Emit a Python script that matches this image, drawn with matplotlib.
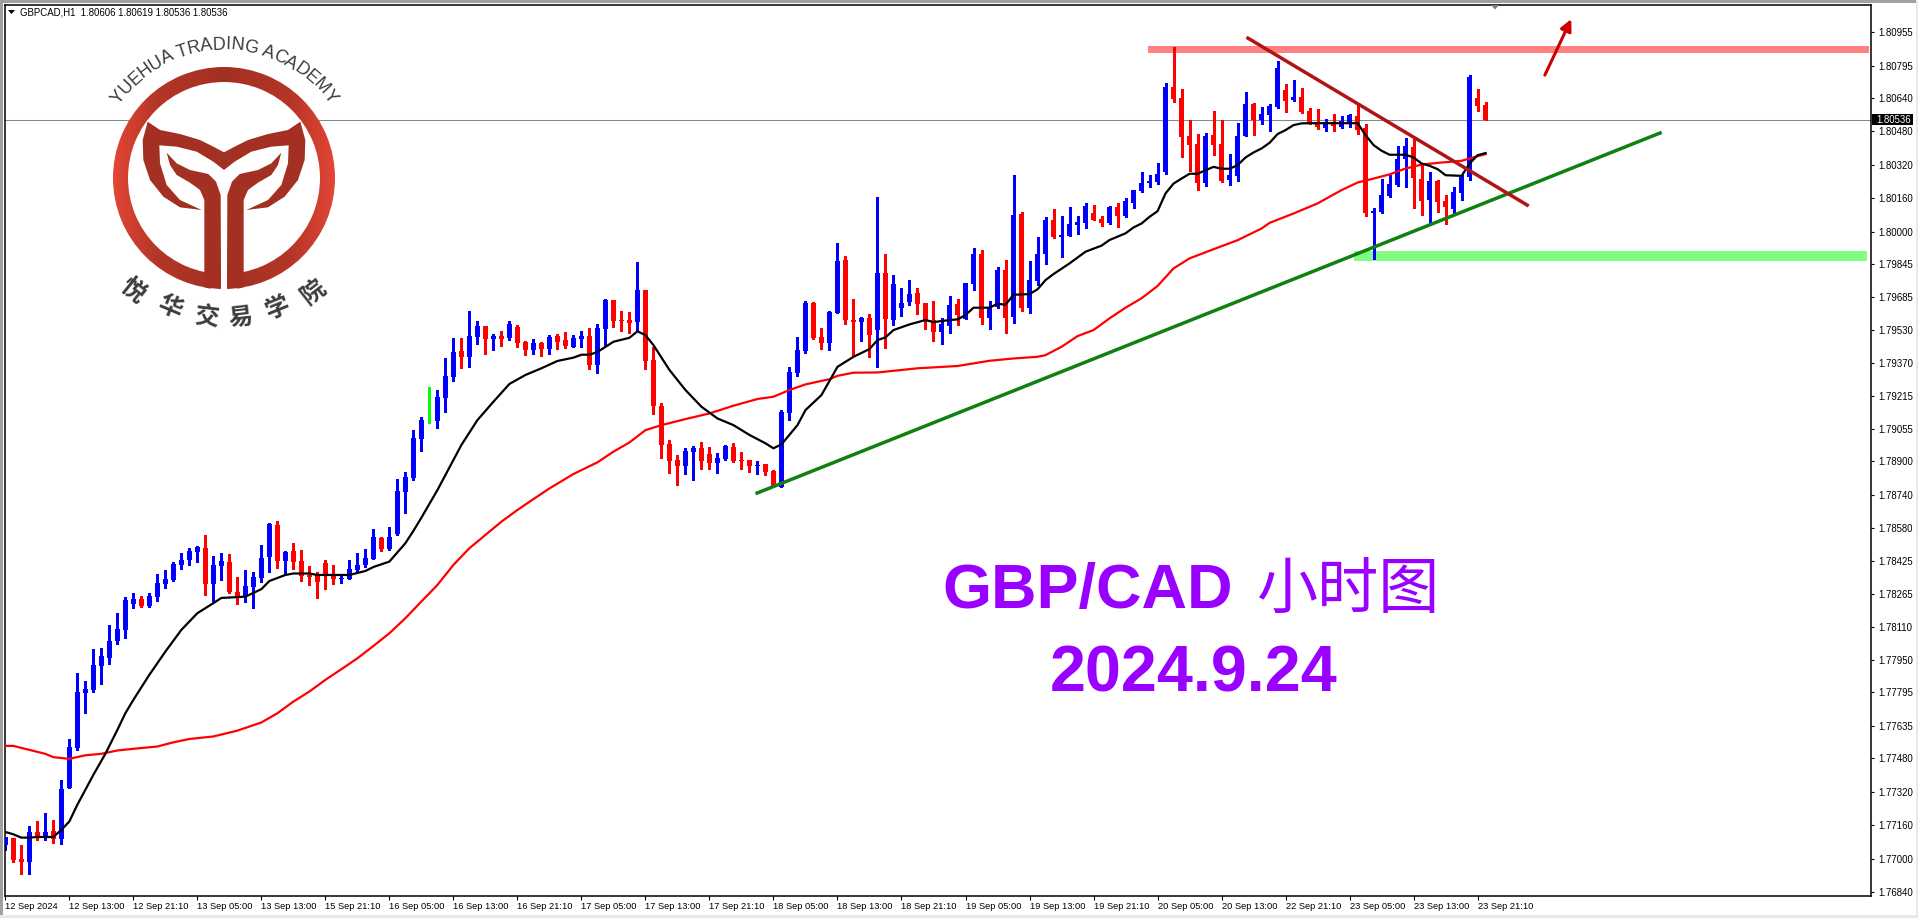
import numpy as np
import matplotlib
matplotlib.use("Agg")
import matplotlib.pyplot as plt
from matplotlib.colors import LinearSegmentedColormap
from matplotlib.font_manager import FontProperties
from matplotlib.patches import Circle, Polygon, Rectangle, Wedge
from matplotlib.textpath import text_to_path

plt.rcParams['font.family'] = ['Liberation Sans', 'Noto Sans CJK SC', 'DejaVu Sans']

# GBPCAD H1 candles, in points (1.80536 -> 180536)
opens = [
    177065,177099,176997,176984,177127,177097,177132,177094,177338,177529,
    177793,177807,177922,177960,178041,178094,178218,178242,178209,178252,
    178314,178333,178405,178429,178467,178486,178314,178400,178419,178276,
    178257,178300,178343,178443,178596,178424,178472,178424,178357,178357,
    178415,178352,178340,178338,178381,178405,178434,178534,178482,178553,
    178754,178821,179007,179090,179094,179204,179304,179428,179400,179495,
    179548,179486,179500,179491,179543,179472,179433,179467,179438,179500,
    179481,179448,179486,179500,179361,179534,179673,179577,179577,179567,
    179720,179385,179165,178983,178907,178878,178945,178964,178936,178893,
    178912,178969,178907,178907,178878,178888,178854,178779,179132,179323,
    179428,179658,179495,179467,179610,179864,179577,179567,179586,179529,
    179802,179577,179634,179663,179706,179658,179577,179519,179548,179653,
    179582,179749,179893,179586,179639,179816,179591,180084,179634,179763,
    179893,180055,179974,179979,180031,180041,180089,180060,180041,180118,
    180074,180136,180194,180232,180237,180285,180691,180639,180457,180419,
    180232,180462,180419,180246,180266,180457,180610,180534,180557,180596,
    180677,180629,180644,180577,180524,180495,180519,180500,180519,180553,
    180495,180089,180093,180170,180222,180347,180404,180251,180151,180242,
    180146,180108,180184,180261,180639,180606]
highs = [
    177103,177099,177065,177156,177180,177218,177185,177376,177572,177888,
    177850,178003,178008,178118,178175,178252,178271,178257,178271,178362,
    178381,178419,178462,178486,178496,178549,178448,178462,178458,178348,
    178381,178371,178501,178606,178616,178472,178510,178477,178400,178371,
    178429,178405,178357,178429,178462,178482,178577,178539,178587,178816,
    178849,179050,179113,179256,179242,179395,179491,179491,179620,179572,
    179548,179510,179524,179572,179553,179476,179486,179472,179505,179510,
    179519,179505,179524,179539,179558,179677,179673,179620,179615,179854,
    179720,179448,179180,179003,178931,178964,178974,178993,178969,178940,
    178979,178988,178945,178907,178902,178888,178859,179146,179352,179495,
    179668,179663,179539,179620,179945,179883,179677,179591,179606,180165,
    179893,179792,179730,179768,179730,179658,179668,179586,179692,179677,
    179754,179921,179912,179668,179830,179864,180271,180094,179859,179974,
    180070,180108,180074,180118,180074,180137,180127,180074,180122,180137,
    180161,180199,180285,180270,180328,180711,180883,180682,180534,180467,
    180471,180577,180534,180371,180519,180667,180615,180596,180610,180816,
    180706,180725,180687,180591,180586,180538,180562,180553,180562,180605,
    180514,180112,180251,180270,180409,180447,180447,180323,180285,180246,
    180175,180213,180270,180749,180682,180619]
lows = [
    177041,176981,176926,176926,177089,177089,177075,177070,177338,177520,
    177697,177797,177836,177931,178027,178056,178199,178204,178204,178233,
    178295,178328,178386,178405,178419,178261,178233,178333,178271,178218,
    178228,178199,178324,178371,178391,178362,178386,178328,178309,178247,
    178290,178314,178319,178338,178376,178395,178434,178472,178477,178548,
    178653,178811,178950,179084,179060,179137,179285,179347,179352,179462,
    179414,179433,179452,179481,179448,179409,179414,179405,179414,179438,
    179443,179448,179448,179342,179323,179452,179543,179524,179515,179524,
    179342,179127,178916,178845,178787,178840,178811,178864,178864,178845,
    178907,178897,178864,178849,178840,178835,178779,178779,179098,179309,
    179419,179486,179438,179433,179610,179558,179405,179476,179400,179352,
    179443,179553,179596,179649,179606,179534,179476,179462,179515,179553,
    179582,179720,179558,179534,179634,179515,179563,179620,179610,179744,
    179845,179969,179878,179979,179988,180017,180055,180027,180036,180022,
    180070,180112,180189,180213,180227,180275,180620,180356,180289,180199,
    180218,180366,180237,180222,180242,180457,180462,180514,180481,180591,
    180572,180624,180567,180514,180490,180481,180481,180495,180500,180467,
    180074,179868,180089,180165,180218,180213,180112,180079,180041,180093,
    180036,180084,180151,180246,180577,180536]
closes = [
    177103,176993,176981,177127,177097,177127,177092,177333,177534,177797,
    177812,177926,177970,178041,178099,178238,178242,178209,178257,178319,
    178338,178410,178429,178472,178491,178314,178405,178424,178276,178257,
    178304,178348,178438,178601,178424,178467,178419,178352,178348,178324,
    178357,178338,178343,178386,178405,178438,178539,178482,178539,178759,
    178826,179012,179098,179090,179208,179309,179424,179400,179500,179548,
    179486,179500,179486,179558,179467,179433,179467,179438,179495,179472,
    179452,179491,179500,179361,179539,179673,179572,179572,179562,179720,
    179381,179165,178979,178902,178878,178950,178964,178902,178893,178916,
    178974,178902,178902,178878,178883,178849,178783,179137,179328,179433,
    179658,179491,179467,179615,179859,179577,179567,179586,179505,179802,
    179582,179749,179658,179701,179653,179577,179519,179558,179649,179601,
    179754,179893,179586,179639,179816,179586,180079,179634,179768,179893,
    180055,179974,179984,180036,180046,180122,180055,180041,180118,180074,
    180146,180199,180232,180242,180275,180691,180634,180452,180414,180232,
    180457,180414,180242,180270,180457,180610,180534,180562,180600,180782,
    180624,180644,180572,180519,180500,180514,180505,180529,180557,180486,
    180089,180098,180175,180227,180347,180409,180256,180146,180242,180141,
    180117,180189,180261,180739,180600,180536]

# black moving average, read at the bars where it bends
fast_bars = [0,1,2,3,4,6,7,8,9,10,11,12.5,14,15,16,18,20,22,24,26,27,30,32,33,35,36,38,39,43,45,46,48,50,51,
             52,54,56,57,59,61,63,65,67,69,71,72,73,74,76,78,79,80,81,83,85,87,89,91,93,95,96,97,99,100,102,104,106,108,109,
             110,111,113,115,116,118,119,120,121,123,124,125,126,128,129,130,131,133,135,137,138,140,
             141,142,143,144,145,146,147,148,149,150,151,152,153,154,155,156,157,158,159,160,161,162,163,169,
             170,171,172,173,175,176,177,178,179,180,182,183,184,185]
fast_ma = [177127,177116,177100,177100,177103,177103,177137,177177,177257,177328,177400,177501,177615,177695,177759,
           177879,177990,178094,178174,178222,178247,178253,178289,178328,178357,178364,178364,178357,178357,178376,
           178395,178421,178509,178568,
           178631,178763,178907,178979,179098,179186,179271,179314,179346,179381,179397,179411,179411,179424,179473,
           179492,179523,179505,179457,179338,179242,179162,179106,179074,179027,178987,178963,178982,179074,179146,
           179218,179353,179401,179438,179481,
           179494,179529,179556,179577,179567,179577,179580,179601,179636,179636,179655,179650,179698,179701,179724,
           179768,179797,179848,179904,179933,179960,179992,
           180020,180039,180071,180098,180183,180230,180254,180277,180277,180294,180310,180301,180301,180318,180355,
           180379,180398,180425,180467,180486,180510,180518,180519,180519,
           180462,180414,180387,180368,180368,180355,180326,180315,180299,180270,180267,180326,180366,180376]

# red moving average
slow_bars = [0,1,3,5,6,8,10,12,14,16,19,21,23,26,29,32,34,36,38,40,42,44,46,48,50,52,54,56,58,
             62,64,66,68,71,74,76,78,80,82,85,88,91,94,96,98,100,103,104,106,109,
             114,119,123,126,129,130,132,134,136,138,140,142,144,146,148,151,154,157,158,161,164,167,169,171,173,175,177,179,182,184,185]
slow_ma = [177539,177539,177520,177501,177485,177477,177494,177501,177517,177525,177536,177556,177572,177584,177612,
           177651,177695,177751,177799,177855,177906,177958,178017,178078,178150,178230,178309,178405,178485,
           178612,178668,178720,178771,178840,178896,178947,178991,179050,179074,179103,179130,179167,179199,179210,
           179242,179269,179294,179310,179325,179326,
           179346,179357,179382,179393,179401,179409,179449,179500,179529,179585,179636,179681,179740,179824,179872,
           179916,179959,180015,180042,180087,180135,180199,180235,180254,180274,180302,180321,180329,180339,180361,180371]

# drawn objects: [bar from, bar to], [price from, price to]
support_bars, support_prices = [93.96, 206.8], [178749, 180472]
resist_bars, resist_prices = [155.3, 190.2], [180926, 180127]
arrow_bars, arrow_prices = [192.4, 195.7], [180749, 181017]
red_zone_bars, red_zone_prices = [142.8, 232.96], [180855, 180888]
green_zone_bars, green_zone_prices = [168.5, 232.7], [179859, 179907]
last_price = 180536

y_labels = ["1.80955","1.80795","1.80640","1.80480","1.80320","1.80160","1.80000","1.79845","1.79685",
            "1.79530","1.79370","1.79215","1.79055","1.78900","1.78740","1.78580","1.78425","1.78265",
            "1.78110","1.77950","1.77795","1.77635","1.77480","1.77320","1.77160","1.77000","1.76840"]
x_labels = ["12 Sep 2024","12 Sep 13:00","12 Sep 21:10","13 Sep 05:00","13 Sep 13:00","15 Sep 21:10",
            "16 Sep 05:00","16 Sep 13:00","16 Sep 21:10","17 Sep 05:00","17 Sep 13:00","17 Sep 21:10",
            "18 Sep 05:00","18 Sep 13:00","18 Sep 21:10","19 Sep 05:00","19 Sep 13:00","19 Sep 21:10",
            "20 Sep 05:00","20 Sep 13:00","22 Sep 21:10","23 Sep 05:00","23 Sep 13:00","23 Sep 21:10"]

W, H = 1918, 918
fig = plt.figure(figsize=(W / 100, H / 100), dpi=100, facecolor="white")
ax = fig.add_axes([4.5 / W, (H - 895.5) / H, 1866 / W, 891 / H])

o = np.array(opens) / 1e5
h = np.array(highs) / 1e5
l = np.array(lows) / 1e5
c = np.array(closes) / 1e5
bars = np.arange(len(o))
colors = ["#0000FF" if b > a else "#FF0000" if b < a else "#00FF00" for a, b in zip(o, c)]

# zones go under the candles
ax.add_patch(Rectangle((red_zone_bars[0], red_zone_prices[0] / 1e5), red_zone_bars[1] - red_zone_bars[0],
                       (red_zone_prices[1] - red_zone_prices[0]) / 1e5, color="#FF8080", lw=0, zorder=1))
ax.add_patch(Rectangle((green_zone_bars[0], green_zone_prices[0] / 1e5), green_zone_bars[1] - green_zone_bars[0],
                       (green_zone_prices[1] - green_zone_prices[0]) / 1e5, color="#80FF80", lw=0, zorder=1))
ax.axhline(last_price / 1e5, color="#808890", lw=0.75, zorder=1.5)

ax.vlines(bars, l, h, colors=colors, lw=0.8, antialiased=False, zorder=2)
ax.bar(bars, np.abs(c - o), bottom=np.minimum(o, c), width=0.625, color=colors, lw=0, snap=True, zorder=3)

ax.plot(slow_bars, np.array(slow_ma) / 1e5, color="#FF0000", lw=1.6, zorder=4)
ax.plot(fast_bars, np.array(fast_ma) / 1e5, color="black", lw=1.6, zorder=5)

ax.plot(support_bars, np.array(support_prices) / 1e5, color="#118011", lw=2.5, zorder=6)
ax.plot(resist_bars, np.array(resist_prices) / 1e5, color="#B01414", lw=2.5, zorder=7)
ax.annotate("", xy=(arrow_bars[1], arrow_prices[1] / 1e5), xytext=(arrow_bars[0], arrow_prices[0] / 1e5),
            arrowprops=dict(arrowstyle="-|>", color="#CC0000", lw=2.2, mutation_scale=17, shrinkA=0, shrinkB=0),
            zorder=7)

ax.set_xlim(-0.1, 233.1)
ax.set_ylim(1.76823, 1.81087)
ax.yaxis.tick_right()
ax.set_yticks([float(s) for s in y_labels])
ax.set_yticklabels(y_labels, fontsize=6.9)
ax.set_xticks(bars[::8])
ax.set_xticklabels(x_labels, fontsize=6.7, ha="left")
ax.tick_params(axis="y", length=2.5, width=0.8, pad=3)
ax.tick_params(axis="x", length=3, width=0.8, pad=2)
for s in ax.spines.values():
    s.set_linewidth(1.1)

# overlay in image pixels for the logo, header and window frame
ov = fig.add_axes([0, 0, 1, 1], zorder=10)
ov.patch.set_alpha(0)
ov.axis("off")

ov.add_patch(Rectangle((0, 0), W, 2.5, color="#A0A0A0", lw=0))
ov.add_patch(Rectangle((0, 0), 2.5, H, color="#A0A0A0", lw=0))
ov.add_patch(Rectangle((0, 915), W, 3, color="#E8E8E8", lw=0))
ov.add_patch(Rectangle((1916, 0), 2, H, color="#E8E8E8", lw=0))
ov.add_patch(Polygon([(8, 10), (15, 10), (11.5, 14)], color="black", lw=0))
ov.add_patch(Polygon([(1491, 5), (1499, 5), (1495, 9.5)], color="#708090", lw=0))
ov.text(20, 12.5, "GBPCAD,H1  1.80606 1.80619 1.80536 1.80536", fontsize=6.9, va="center", color="black")
ov.add_patch(Rectangle((1872, 114), 41, 11, color="black", lw=0))
ov.text(1876, 119.8, "1.80536", fontsize=6.9, color="white", va="center")

# logo
logo_x, logo_y = 224, 178
ov.add_patch(Circle((logo_x, logo_y), 97, color="white", lw=0, zorder=1))
ring = Wedge((logo_x, logo_y), 111, 0, 360, width=15, transform=ov.transData)
cmap = LinearSegmentedColormap.from_list("logo", [(0, "#E34636"), (0.2, "#B33626"), (0.5, "#A33022"),
                                                  (0.8, "#B33626"), (1, "#E34636")])
im = ov.imshow(np.linspace(0, 1, 256)[None, :], cmap=cmap, extent=(113, 335, 290, 66), aspect="auto", zorder=2)
im.set_clip_path(ring)
ov.add_patch(Rectangle((221, 262), 6, 30, color="white", lw=0, zorder=3))

tail = np.array([(443,365),(480,390),(540,402),(600,420),(640,440),(672,457),(672,510),(640,485),(590,455),
                 (530,440),(478,436),(480,490),(500,555),(540,600),(605,630),(540,622),(490,590),(450,540),
                 (430,480),(428,420)]) / 3
stem = np.array([(500,458),(530,490),(570,510),(625,522),(648,545),(662,585),(663,830),(650,855),(630,866),
                 (613,862),(613,600),(600,570),(570,548),(530,525),(510,495)]) / 3
for shape in (tail, stem):
    ov.add_patch(Polygon(shape, color="#A33022", lw=0, zorder=4))
    ov.add_patch(Polygon(np.c_[2 * logo_x - shape[:, 0], shape[:, 1]], color="#A33022", lw=0, zorder=4))

arc_text = "YUEHUA TRADING ACADEMY"
arc_size = 13.0
fp = FontProperties(family="Liberation Sans", size=arc_size)
widths = []
for ch in arc_text:
    w = text_to_path.get_text_width_height_descent(ch, fp, False)[0] * 100 / 72
    widths.append(w if ch != " " else arc_size * 100 / 72 * 0.278)
total = sum(widths)
pos = -total / 2
for ch, w in zip(arc_text, widths):
    ang = (pos + w / 2) / 133
    ov.text(logo_x + 133 * np.sin(ang), logo_y - 133 * np.cos(ang), ch, fontproperties=fp, color="#3C3C3C",
            rotation=-np.degrees(ang), rotation_mode="anchor", ha="center", va="center", zorder=5)
    pos += w

cn_chars = ["悦", "华", "交", "易", "学", "院"]
cn_x = [133, 170, 207, 240, 277, 313]
cn_y = [291, 307, 318, 318, 308, 292]
for ch, x, y in zip(cn_chars, cn_x, cn_y):
    rot = np.degrees(np.arctan2(x - logo_x, y - logo_y))
    ov.text(x, y, ch, family=["Noto Sans CJK SC", "DejaVu Sans"], weight="bold", fontsize=17.5, color="#3C3C3C",
            rotation=rot, rotation_mode="anchor", ha="center", va="center", zorder=5)

# chart caption
ov.text(942, 608, "GBP/CAD", fontsize=45.4, weight="bold", color="#9900FF", family="Liberation Sans", va="baseline")
ov.text(1348, 592, "小时图", fontsize=44, color="#9900FF", family=["Noto Sans CJK SC", "DejaVu Sans"],
        ha="center", va="center")
ov.text(1194, 691, "2024.9.24", fontsize=46.5, weight="bold", color="#9900FF", family="Liberation Sans",
        ha="center", va="baseline")

ov.set_xlim(0, W)
ov.set_ylim(H, 0)

fig.savefig("out.png", dpi=100)
